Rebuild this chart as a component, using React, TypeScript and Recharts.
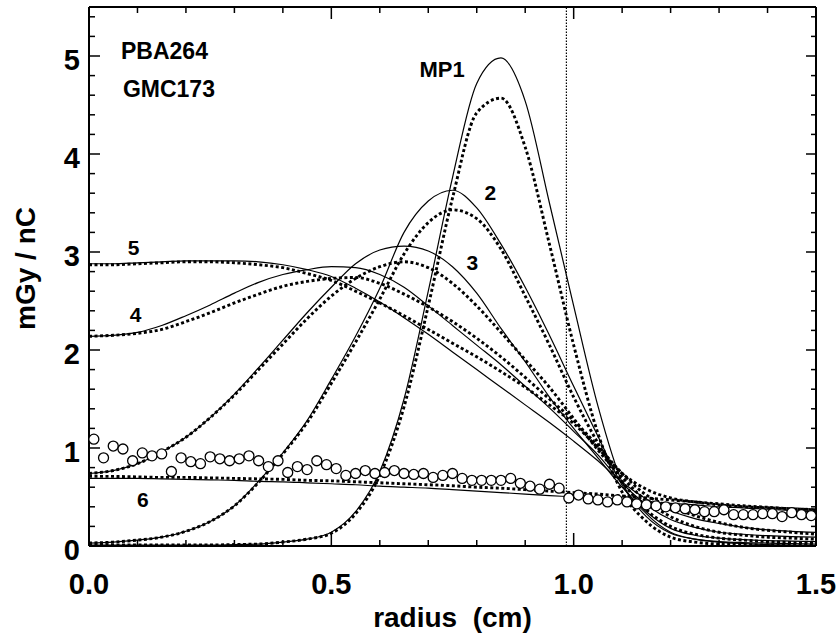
import React from "react";
import {
    ComposedChart,
    Line,
    Scatter,
    XAxis,
    YAxis,
    ReferenceLine,
    ReferenceDot,
} from "recharts";

const FONT = "'Liberation Sans', Arial, Helvetica, sans-serif";

// radius grid (cm) shared by the calculated profiles
const radius = [
    0, 0.05, 0.1, 0.15, 0.2, 0.25, 0.3, 0.35, 0.4, 0.45, 0.5, 0.55, 0.6, 0.65, 0.7, 0.75,
    0.8, 0.85, 0.9, 0.95, 1.0, 1.05, 1.1, 1.15, 1.2, 1.25, 1.3, 1.35, 1.4, 1.45, 1.5,
];

// solid = one calculation, dotted = the other
const mp1Solid = [0.01, 0.01, 0.01, 0.01, 0.01, 0.01, 0.015, 0.02, 0.04, 0.07, 0.14, 0.35, 0.76, 1.5, 2.6, 3.76, 4.72, 4.98, 4.54, 3.5, 2.45, 1.43, 0.65, 0.33, 0.14, 0.07, 0.04, 0.025, 0.015, 0.01, 0.005];
const mp1Dotted = [0.01, 0.01, 0.01, 0.01, 0.01, 0.01, 0.015, 0.02, 0.04, 0.07, 0.13, 0.33, 0.72, 1.42, 2.45, 3.55, 4.42, 4.57, 4.07, 3.08, 2.05, 1.15, 0.55, 0.25, 0.09, 0.04, 0.02, 0.015, 0.01, 0.008, 0.005];
const mp2Solid = [0.03, 0.04, 0.06, 0.09, 0.15, 0.25, 0.41, 0.66, 0.95, 1.28, 1.7, 2.14, 2.63, 3.2, 3.52, 3.63, 3.45, 3.08, 2.64, 2.15, 1.63, 1.12, 0.62, 0.3, 0.13, 0.07, 0.045, 0.035, 0.03, 0.025, 0.02];
const mp2Dotted = [0.03, 0.04, 0.06, 0.09, 0.15, 0.25, 0.41, 0.65, 0.94, 1.26, 1.66, 2.08, 2.52, 2.98, 3.3, 3.43, 3.34, 3.03, 2.55, 2.05, 1.52, 1.05, 0.66, 0.37, 0.2, 0.12, 0.08, 0.06, 0.045, 0.035, 0.03];
const mp3Solid = [0.74, 0.77, 0.84, 0.96, 1.11, 1.31, 1.55, 1.82, 2.1, 2.38, 2.64, 2.88, 3.02, 3.06, 3.01, 2.85, 2.58, 2.22, 1.88, 1.52, 1.2, 0.9, 0.6, 0.35, 0.18, 0.11, 0.08, 0.065, 0.055, 0.05, 0.045];
const mp3Dotted = [0.74, 0.77, 0.84, 0.96, 1.11, 1.31, 1.54, 1.8, 2.06, 2.32, 2.55, 2.73, 2.85, 2.9, 2.84, 2.68, 2.45, 2.18, 1.9, 1.62, 1.3, 0.98, 0.7, 0.46, 0.3, 0.2, 0.14, 0.11, 0.09, 0.08, 0.07];
const mp4Solid = [2.14, 2.15, 2.18, 2.25, 2.35, 2.46, 2.58, 2.69, 2.77, 2.82, 2.85, 2.84, 2.77, 2.64, 2.45, 2.25, 2.05, 1.85, 1.63, 1.41, 1.17, 0.93, 0.64, 0.42, 0.27, 0.19, 0.14, 0.12, 0.105, 0.095, 0.09];
const mp4Dotted = [2.14, 2.15, 2.17, 2.21, 2.29, 2.38, 2.48, 2.57, 2.65, 2.7, 2.73, 2.74, 2.68, 2.57, 2.44, 2.29, 2.12, 1.93, 1.72, 1.5, 1.28, 1.02, 0.74, 0.52, 0.4, 0.31, 0.24, 0.19, 0.16, 0.14, 0.12];
const mp5Solid = [2.88, 2.88, 2.89, 2.9, 2.91, 2.91, 2.91, 2.9, 2.87, 2.82, 2.75, 2.63, 2.49, 2.33, 2.16, 1.98, 1.8, 1.62, 1.44, 1.26, 1.07, 0.87, 0.65, 0.48, 0.36, 0.28, 0.23, 0.19, 0.165, 0.15, 0.14];
const mp5Dotted = [2.87, 2.87, 2.88, 2.89, 2.9, 2.9, 2.89, 2.87, 2.84, 2.78, 2.71, 2.6, 2.48, 2.35, 2.21, 2.07, 1.93, 1.78, 1.62, 1.44, 1.25, 1.0, 0.74, 0.58, 0.49, 0.45, 0.42, 0.4, 0.39, 0.38, 0.37];
const mp6Solid = [0.69, 0.69, 0.69, 0.685, 0.68, 0.675, 0.67, 0.66, 0.655, 0.645, 0.635, 0.625, 0.61, 0.6, 0.59, 0.575, 0.56, 0.545, 0.53, 0.515, 0.5, 0.485, 0.47, 0.45, 0.435, 0.42, 0.4, 0.39, 0.375, 0.36, 0.35];
const mp6Dotted = [0.71, 0.71, 0.705, 0.7, 0.7, 0.695, 0.69, 0.685, 0.68, 0.67, 0.665, 0.655, 0.645, 0.635, 0.625, 0.615, 0.6, 0.59, 0.575, 0.56, 0.545, 0.53, 0.51, 0.49, 0.47, 0.45, 0.43, 0.41, 0.395, 0.38, 0.37];

// measured points (open circles)
const measuredR = [
    0.01, 0.03, 0.05, 0.07, 0.09, 0.11, 0.13, 0.15, 0.17, 0.19, 0.21, 0.23, 0.25, 0.27, 0.29,
    0.31, 0.33, 0.35, 0.37, 0.39, 0.41, 0.43, 0.45, 0.47, 0.49, 0.51, 0.53, 0.55, 0.57, 0.59,
    0.61, 0.63, 0.65, 0.67, 0.69, 0.71, 0.73, 0.75, 0.77, 0.79, 0.81, 0.83, 0.85, 0.87, 0.89,
    0.91, 0.93, 0.95, 0.97, 0.99, 1.01, 1.03, 1.05, 1.07, 1.09, 1.11, 1.13, 1.15, 1.17, 1.19,
    1.21, 1.23, 1.25, 1.27, 1.29, 1.31, 1.33, 1.35, 1.37, 1.39, 1.41, 1.43, 1.45, 1.47, 1.49,
];
const measuredDose = [
    1.09, 0.9, 1.02, 0.99, 0.87, 0.95, 0.92, 0.94, 0.76, 0.9, 0.86, 0.84, 0.91, 0.89, 0.87,
    0.89, 0.92, 0.87, 0.81, 0.87, 0.75, 0.81, 0.78, 0.87, 0.83, 0.79, 0.72, 0.74, 0.77, 0.74,
    0.75, 0.77, 0.74, 0.73, 0.74, 0.7, 0.72, 0.74, 0.69, 0.67, 0.67, 0.67, 0.67, 0.69, 0.64,
    0.61, 0.58, 0.63, 0.59, 0.49, 0.52, 0.48, 0.47, 0.45, 0.47, 0.45, 0.43, 0.42, 0.41, 0.4,
    0.39, 0.38, 0.37, 0.35, 0.35, 0.37, 0.32, 0.32, 0.32, 0.33, 0.33, 0.3, 0.34, 0.32, 0.31,
];

const xTicks = [0, 0.1, 0.2, 0.3, 0.4, 0.5, 0.6, 0.7, 0.8, 0.9, 1.0, 1.1, 1.2, 1.3, 1.4, 1.5];
const yTicks = [
    0, 0.2, 0.4, 0.6, 0.8, 1, 1.2, 1.4, 1.6, 1.8, 2, 2.2, 2.4, 2.6, 2.8, 3, 3.2, 3.4, 3.6,
    3.8, 4, 4.2, 4.4, 4.6, 4.8, 5, 5.2, 5.4,
];
const fieldEdge = 0.985;

const annotations = [
    { text: "PBA264", x: 0.066, y: 4.97, size: 23 },
    { text: "GMC173", x: 0.07, y: 4.58, size: 23 },
    { text: "MP1", x: 0.682, y: 4.79, size: 22 },
    { text: "2", x: 0.816, y: 3.53, size: 21 },
    { text: "3", x: 0.779, y: 2.82, size: 21 },
    { text: "5", x: 0.08, y: 2.97, size: 21 },
    { text: "4", x: 0.084, y: 2.29, size: 21 },
    { text: "6", x: 0.099, y: 0.4, size: 21 },
];

const series = [
    { key: "mp1S", values: mp1Solid, dotted: false },
    { key: "mp1D", values: mp1Dotted, dotted: true },
    { key: "mp2S", values: mp2Solid, dotted: false },
    { key: "mp2D", values: mp2Dotted, dotted: true },
    { key: "mp3S", values: mp3Solid, dotted: false },
    { key: "mp3D", values: mp3Dotted, dotted: true },
    { key: "mp4S", values: mp4Solid, dotted: false },
    { key: "mp4D", values: mp4Dotted, dotted: true },
    { key: "mp5S", values: mp5Solid, dotted: false },
    { key: "mp5D", values: mp5Dotted, dotted: true },
    { key: "mp6S", values: mp6Solid, dotted: false },
    { key: "mp6D", values: mp6Dotted, dotted: true },
];

const rows = radius.map((x, i) => {
    const row: Record<string, number> = { x };
    series.forEach(s => { row[s.key] = s.values[i]; });
    return row;
});
const measured = measuredR.map((x, i) => ({ x, y: measuredDose[i] }));

const isMult = (v: number, step: number) => Math.abs(v / step - Math.round(v / step)) < 1e-6;

function BottomTick(props: any) {
    const { x, y, payload } = props;
    const major = isMult(payload.value, 0.5);
    return (
        <g>
            <line x1={x} x2={x} y1={y} y2={y - (major ? 13 : 6)} stroke="#000" strokeWidth={1.5} />
            {major && (
                <text x={x} y={y + 48} textAnchor="middle" fontSize={29} fontWeight="bold" fontFamily={FONT} fill="#000">
                    {payload.value.toFixed(1)}
                </text>
            )}
        </g>
    );
}

function TopTick(props: any) {
    const { x, y, payload } = props;
    const major = isMult(payload.value, 0.5);
    return <line x1={x} x2={x} y1={y} y2={y + (major ? 12 : 6)} stroke="#000" strokeWidth={1.5} />;
}

function LeftTick(props: any) {
    const { x, y, payload } = props;
    const major = isMult(payload.value, 1);
    return (
        <g>
            <line x1={x} x2={x + (major ? 11 : 6)} y1={y} y2={y} stroke="#000" strokeWidth={1.5} />
            {major && (
                <text x={x - 9} y={y + 14} textAnchor="end" fontSize={29} fontWeight="bold" fontFamily={FONT} fill="#000">
                    {payload.value}
                </text>
            )}
        </g>
    );
}

function RightTick(props: any) {
    const { x, y, payload } = props;
    const major = isMult(payload.value, 1);
    return <line x1={x} x2={x - (major ? 10 : 5)} y1={y} y2={y} stroke="#000" strokeWidth={1.5} />;
}

function OpenCircle(props: any) {
    return <circle cx={props.cx} cy={props.cy} r={5} fill="#fff" stroke="#000" strokeWidth={1.3} />;
}

export default function App() {
    const axisLine = { stroke: "#000", strokeWidth: 2 };
    return (
        <div style={{ position: "absolute", left: 0, top: 0, width: 839, height: 636, background: "#fff" }}>
            <ComposedChart
                width={839}
                height={636}
                data={rows}
                margin={{ top: 6, right: 22, bottom: 0, left: 0 }}
            >
                <XAxis
                    dataKey="x"
                    type="number"
                    domain={[0, 1.5]}
                    ticks={xTicks}
                    interval={0}
                    allowDataOverflow
                    height={90}
                    tickSize={0}
                    tickMargin={0}
                    tickLine={false}
                    axisLine={axisLine}
                    tick={<BottomTick />}
                    label={{
                        value: "radius\u00a0 (cm)",
                        position: "insideBottom",
                        offset: 9,
                        style: { fontSize: 28, fontWeight: "bold", fontFamily: FONT, fill: "#000" },
                    }}
                />
                <XAxis
                    xAxisId="top"
                    orientation="top"
                    dataKey="x"
                    type="number"
                    domain={[0, 1.5]}
                    ticks={xTicks}
                    interval={0}
                    allowDataOverflow
                    height={1}
                    tickSize={0}
                    tickMargin={0}
                    tickLine={false}
                    axisLine={axisLine}
                    tick={<TopTick />}
                />
                <YAxis
                    type="number"
                    domain={[0, 5.5]}
                    ticks={yTicks}
                    interval={0}
                    allowDataOverflow
                    width={89}
                    tickSize={0}
                    tickMargin={0}
                    tickLine={false}
                    axisLine={axisLine}
                    tick={<LeftTick />}
                    label={{
                        content: (p: any) => {
                            const vb = p.viewBox;
                            const cx = vb.x + 35;
                            const cy = vb.y + vb.height / 2 - 8;
                            return (
                                <text
                                    x={cx}
                                    y={cy}
                                    transform={`rotate(-90, ${cx}, ${cy})`}
                                    textAnchor="middle"
                                    fontSize={28}
                                    fontWeight="bold"
                                    fontFamily={FONT}
                                    fill="#000"
                                >
                                    mGy / nC
                                </text>
                            );
                        },
                    }}
                />
                <YAxis
                    yAxisId="right"
                    orientation="right"
                    type="number"
                    domain={[0, 5.5]}
                    ticks={yTicks}
                    interval={0}
                    allowDataOverflow
                    width={1}
                    tickSize={0}
                    tickMargin={0}
                    tickLine={false}
                    axisLine={axisLine}
                    tick={<RightTick />}
                />

                <ReferenceLine x={fieldEdge} stroke="#000" strokeWidth={1.2} strokeDasharray="1.5 1.5" />

                {series.map(s => (
                    <Line
                        key={s.key}
                        type="monotone"
                        dataKey={s.key}
                        stroke="#000"
                        strokeWidth={s.dotted ? 2.9 : 1.2}
                        strokeDasharray={s.dotted ? "3 2.5" : undefined}
                        dot={false}
                        activeDot={false}
                        isAnimationActive={false}
                    />
                ))}

                <Scatter data={measured} dataKey="y" shape={<OpenCircle />} isAnimationActive={false} />

                {annotations.map(a => (
                    <ReferenceDot
                        key={a.text}
                        x={a.x}
                        y={a.y}
                        r={0}
                        fill="none"
                        stroke="none"
                        label={{
                            content: (p: any) => (
                                <text
                                    x={p.viewBox.x}
                                    y={p.viewBox.y}
                                    fontSize={a.size}
                                    fontWeight="bold"
                                    fontFamily={FONT}
                                    fill="#000"
                                >
                                    {a.text}
                                </text>
                            ),
                        }}
                    />
                ))}
            </ComposedChart>
        </div>
    );
}
